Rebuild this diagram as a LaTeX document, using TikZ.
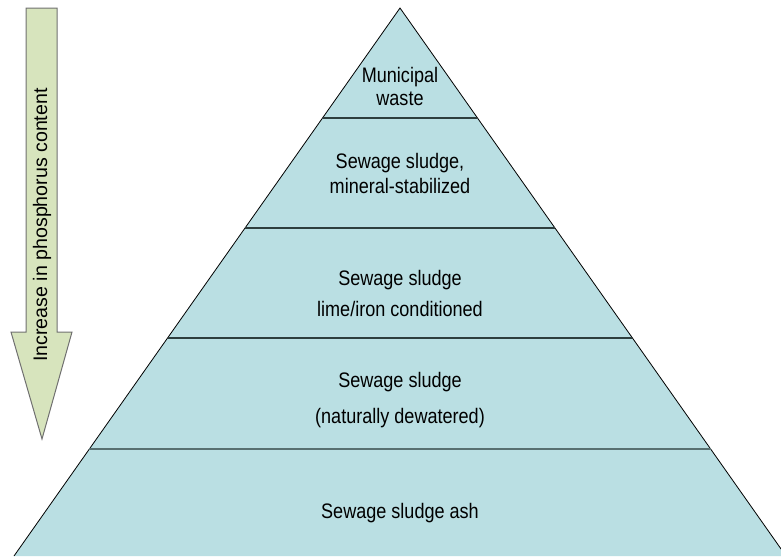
\documentclass[tikz,border=0pt]{standalone}
\usepackage{fontspec}
\setmainfont{Liberation Sans}
\newfontfamily\narrowfont{Liberation Sans}[FakeStretch=0.86]
\usetikzlibrary{calc}
\definecolor{pyrfill}{RGB}{186,223,227}
\definecolor{arrfill}{RGB}{215,228,189}
\definecolor{arredge}{RGB}{112,112,112}
\definecolor{bandline}{RGB}{45,62,62}
\definecolor{softline}{RGB}{88,112,113}
\tikzset{
  label/.style={font=\narrowfont\fontsize{21}{24}\selectfont, anchor=base, inner sep=0pt},
  thinline/.style={draw=bandline, line width=1.2pt},
  thickline/.style={draw=bandline, line width=2.4pt},
  softline/.style={draw=softline, line width=2pt}
}
\begin{document}
\begin{tikzpicture}[x=1pt,y=-1pt]
\useasboundingbox (0,0) rectangle (781,558);
\begin{scope}
\clip (0,0) rectangle (781,558);
% pyramid
\coordinate (apex) at (400,8);
\coordinate (bl) at (14,556);
\coordinate (br) at (786,556);
\fill[pyrfill] (apex) -- (br) -- (bl) -- cycle;
\draw[black, line width=0.8pt] (bl) -- (apex) -- (br);
\foreach \t/\sty in {0.2007/thinline, 0.4015/thickline, 0.6022/thickline, 0.8047/softline}
  \path[\sty] ($(apex)!\t!(bl)$) -- ($(apex)!\t!(br)$);
\end{scope}

% arrow
\draw[fill=arrfill, draw=arredge, line width=1pt]
  (26,8) -- (57,8) -- (57,332) -- (72,332) -- (42,439) -- (11,332) -- (26,332) -- cycle;
\node[font=\fontsize{19.6}{22}\selectfont, rotate=90, inner sep=0pt] (arrowtext) at (42,225) {Increase in phosphorus content};

% labels
\node[label] (mw1) at (400,82) {Municipal};
\node[label] (mw2) at (400,105) {waste};
\node[label] (ms1) at (400,168) {Sewage sludge,};
\node[label] (ms2) at (400,193) {mineral-stabilized};
\node[label] (li1) at (400,285) {Sewage sludge};
\node[label] (li2) at (400,316) {lime/iron conditioned};
\node[label] (nd1) at (400,387) {Sewage sludge};
\node[label] (nd2) at (400,423) {(naturally dewatered)};
\node[label] (ash) at (400,518) {Sewage sludge ash};
\end{tikzpicture}
\end{document}
